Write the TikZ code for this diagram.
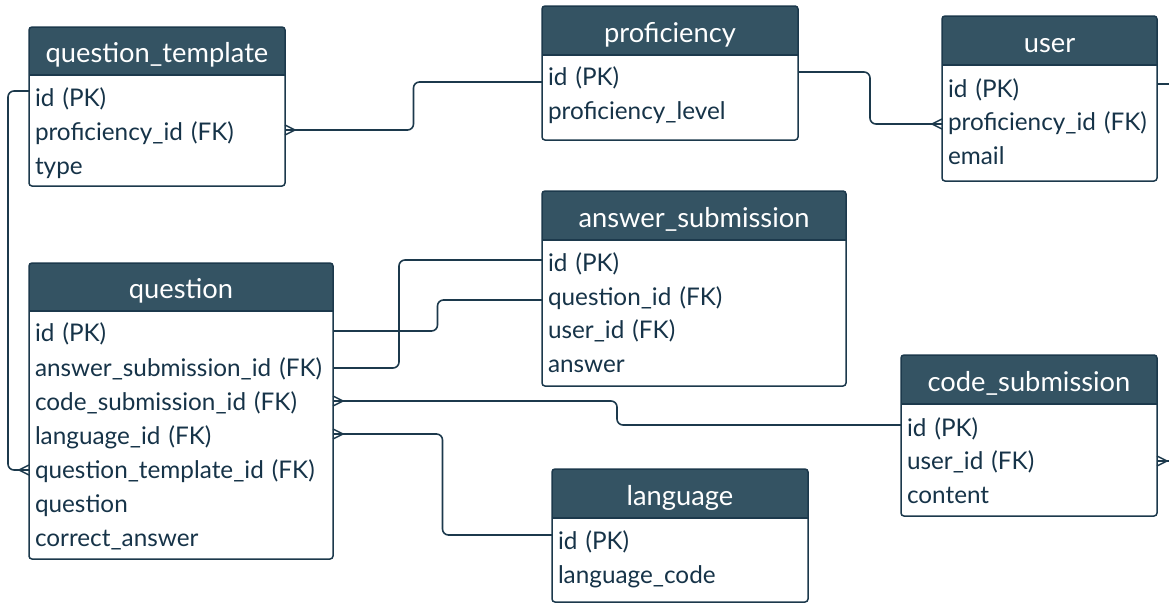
\documentclass[tikz,border=0pt]{standalone}
\usepackage{fontspec}
\setmainfont{Lato}
\usetikzlibrary{calc}

\definecolor{headfill}{HTML}{345363}
\definecolor{ink}{HTML}{163348}
\definecolor{wire}{HTML}{1C394C}

\tikzset{
  x=1pt, y=-1pt,
  tablebody/.style={anchor=north west, inner sep=0pt, outer sep=0pt, fill=white},
  frame/.style={draw=wire, line width=1.5pt},
  headtext/.style={text=white, font=\fontsize{27.3}{32}\selectfont, inner sep=0pt},
  field/.style={text=ink, font=\fontsize{24.3}{29}\selectfont, inner xsep=6pt, inner ysep=0pt,
    text height=20pt, text depth=2.5pt, align=left, anchor=west, outer sep=0pt},
  conn/.style={draw=wire, line width=1.6pt, rounded corners=6pt},
  crowline/.style={draw=wire, line width=1.4pt},
}

% table: name, left, top, width, height, header bottom, title
\newcommand\ertable[7]{%
  \node[tablebody, minimum width=#4pt, minimum height=#5pt] (#1) at (#2,#3) {};
  \begin{scope}
    \clip[rounded corners=3pt] (#1.north west) rectangle (#1.south east);
    \fill[headfill] (#1.north west) rectangle ++(#4,#6-#3);
  \end{scope}
  \node[headtext, anchor=base] (#1-title) at ({#2+#4/2},{(#3+#6)/2+11.5}) {#7};
  \draw[frame] (#2,#6) -- ++(#4,0);
  \draw[frame, rounded corners=3pt] (#1.north west) rectangle (#1.south east);
}
% field row: name, left, text width, centre y, text
\newcommand\field[5]{\node[field, text width=#3pt] (#1) at (#2,#4) {#5};}

% orthogonal link with the vertical leg half-way
\newcommand\midlink[2]{%
  \draw[conn] let \p1=(#1), \p2=(#2) in
    (\p1) -- ({(\x1+\x2)/2},\y1) -- ({(\x1+\x2)/2},\y2) -- (\p2);}
% orthogonal link with the vertical leg at a given x
\newcommand\leglink[3]{%
  \draw[conn] let \p1=(#2), \p2=(#3) in
    (\p1) -- (#1pt,\y1) -- (#1pt,\y2) -- (\p2);}
% crow's foot touching an entity at #1, apex #2 pt away along x
\newcommand\crowfoot[2]{%
  \draw[crowline] ([xshift=#2pt]#1) -- ([yshift=5pt]#1)
                  ([xshift=#2pt]#1) -- ([yshift=-5pt]#1);}

\begin{document}
\begin{tikzpicture}
\useasboundingbox (0,0) rectangle (1169,603);
\coordinate (rim) at (1169,0);

% ---- question_template
\ertable{qt}{29}{27}{256}{159}{75}{question\_template}
\field{qt-id}{29}{244}{98}{id (PK)}
\field{qt-prof}{29}{244}{132}{proficiency\_id (FK)}
\field{qt-type}{29}{244}{166}{type}

% ---- proficiency
\ertable{pf}{542}{6}{256}{134}{55}{proficiency}
\field{p-id}{542}{244}{77}{id (PK)}
\field{p-lvl}{542}{244}{111}{proficiency\_level}

% ---- user
\ertable{us}{942}{16}{215}{165}{65}{user}
\field{u-id}{942}{203}{89}{id (PK)}
\field{u-prof}{942}{203}{122}{proficiency\_id (FK)}
\field{u-mail}{942}{203}{156}{email}

% ---- answer_submission
\ertable{as}{542}{191}{304}{195}{240}{answer\_submission}
\field{as-id}{542}{292}{263}{id (PK)}
\field{as-qid}{542}{292}{297}{question\_id (FK)}
\field{as-uid}{542}{292}{330}{user\_id (FK)}
\field{as-ans}{542}{292}{364}{answer}

% ---- question
\ertable{qu}{29}{263}{304}{296}{311}{question}
\field{q-id}{29}{292}{333}{id (PK)}
\field{q-asid}{29}{292}{368}{answer\_submission\_id (FK)}
\field{q-csid}{29}{292}{402}{code\_submission\_id (FK)}
\field{q-lang}{29}{292}{436}{language\_id (FK)}
\field{q-qt}{29}{292}{470}{question\_template\_id (FK)}
\field{q-text}{29}{292}{504}{question}
\field{q-corr}{29}{292}{538}{correct\_answer}

% ---- code_submission
\ertable{cs}{901}{355}{256}{161}{404}{code\_submission}
\field{cs-id}{901}{244}{428}{id (PK)}
\field{cs-uid}{901}{244}{461}{user\_id (FK)}
\field{cs-body}{901}{244}{495}{content}

% ---- language
\ertable{lg}{552}{469}{256}{133}{518}{language}
\field{l-id}{552}{244}{541}{id (PK)}
\field{l-code}{552}{244}{575}{language\_code}

% ---- attachment points of the relations
\coordinate (c1a) at ([yshift=2pt]qt-prof.east);
\coordinate (c1b) at ([yshift=-5pt]p-id.west);
\coordinate (c2a) at ([yshift=5pt]p-id.east);
\coordinate (c2b) at ([yshift=-2pt]u-prof.west);
\coordinate (c3a) at ([yshift=5pt]u-id.east);
\coordinate (c4a) at (cs-uid.east);
\coordinate (c5a) at ([yshift=7pt]qt-id.west);
\coordinate (c5b) at (q-qt.west);
\coordinate (c6a) at ([yshift=2pt]q-id.east);
\coordinate (c6b) at ([yshift=-3pt]as-qid.west);
\coordinate (c7a) at (q-asid.east);
\coordinate (c7b) at ([yshift=3pt]as-id.west);
\coordinate (c8a) at ([yshift=1pt]q-csid.east);
\coordinate (c8b) at ([yshift=3pt]cs-id.west);
\coordinate (c9a) at ([yshift=2pt]q-lang.east);
\coordinate (c9b) at ([yshift=6pt]l-id.west);

% ---- relations
\midlink{c1a}{c1b}
\crowfoot{c1a}{10}
\midlink{c2a}{c2b}
\crowfoot{c2b}{-10}
\draw[conn] (c3a) -- (c3a -| rim);
\draw[conn] (c4a) -- (c4a -| rim);
\crowfoot{c4a}{10}
\leglink{8}{c5a}{c5b}
\crowfoot{c5b}{-10}
\midlink{c6a}{c6b}
\leglink{399}{c7a}{c7b}
\midlink{c8a}{c8b}
\crowfoot{c8a}{10}
\midlink{c9a}{c9b}
\crowfoot{c9a}{10}
\end{tikzpicture}
\end{document}
